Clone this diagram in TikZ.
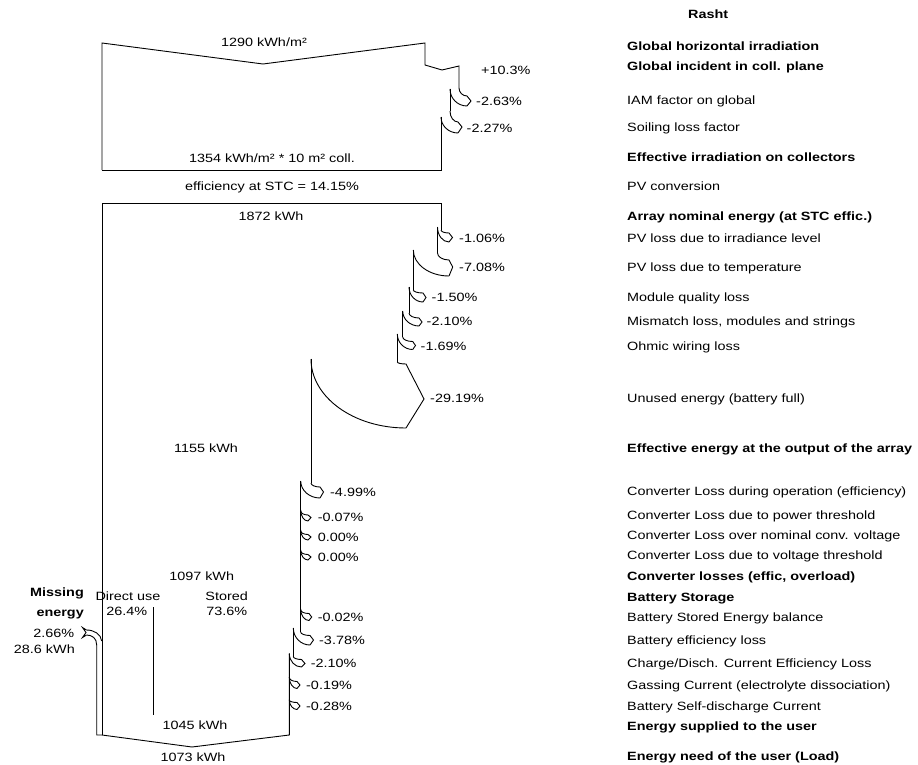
\documentclass[tikz,border=0pt]{standalone}
\usepackage{fontspec}
\setmainfont{Liberation Sans}[FakeStretch=1.2]
\newcommand\lossarrow[9]{%
  \draw[flow] (#1,#2) .. controls (#1,{#2+0.552*(#6-#2)}) and ({#5-0.552*(#5-#1)},#6) .. (#5,#6) -- (#7,#8) -- (#5,#9);
  \draw[flow] (#3,#4) .. controls (#3,{#4+0.552*(#9-#4)}) and ({#5-0.552*(#5-#3)},#9) .. (#5,#9);
}
\begin{document}
\begin{tikzpicture}[x=1pt,y=-1pt,
  flow/.style={draw=black,line width=0.9pt,line join=miter},
  every node/.style={inner sep=0pt,text height=8.6pt,text depth=0pt,font=\fontsize{12}{14}\selectfont},
  rlab/.style={anchor=west},
  rbold/.style={anchor=west,font=\fontsize{12}{14}\selectfont\bfseries},
  pct/.style={anchor=west},
  val/.style={anchor=center}]
\fill[white] (0,0) rectangle (918,765);
\useasboundingbox (0,0) rectangle (918,765);

% ---------- top block (irradiation) ----------
\draw[flow] (102,170) -- (102,43) -- (263,64) -- (425,43) -- (425,65) -- (442,70) -- (459,66) -- (459,88);
\lossarrow{459}{88}{450}{89}{467}{96}{471}{101}{106}
\draw[flow] (450,89) -- (450,111);
\lossarrow{450}{111}{441}{117}{458}{122}{462}{127}{133}
\draw[flow] (441,117) -- (441,170) -- (102,170);

% ---------- array block ----------
\draw[flow] (102,735) -- (102,203) -- (441,203) -- (441,230);
\lossarrow{441}{230}{437.5}{227}{449}{233}{452.5}{237.5}{242}
\draw[flow] (437.5,227) -- (437.5,253);
\lossarrow{437.5}{253}{413.3}{250}{449}{260}{452.7}{267}{276}
\draw[flow] (413.3,250) -- (413.3,290);
\lossarrow{413.3}{290}{409}{287}{423}{293}{426}{297.5}{302}
\draw[flow] (409,287) -- (409,313);
\lossarrow{409}{313}{402.7}{311}{419}{318}{422}{322}{326}
\draw[flow] (402.7,311) -- (402.7,337);
\lossarrow{402.7}{337}{397.3}{334}{412.7}{341.5}{415.5}{345.5}{349.5}
\draw[flow] (397.3,334) -- (397.3,362);
\lossarrow{397.3}{362}{311}{359}{406}{364}{424}{399}{428}
\draw[flow] (311,359) -- (311,483);

% ---------- converter ----------
\lossarrow{311}{483}{300.7}{481}{320}{487}{323.5}{492}{498}
\draw[flow] (300.7,481) -- (300.7,632);
\lossarrow{300.7}{511}{300.7}{510}{308}{515}{311}{517.5}{521}
\lossarrow{300.7}{531}{300.7}{530}{308}{534.5}{311}{537}{540}
\lossarrow{300.7}{551}{300.7}{550}{308}{554.5}{311}{557}{560}

% ---------- battery ----------
\lossarrow{300.7}{610}{300.7}{609}{309}{613.5}{311.7}{617}{620.5}
\lossarrow{300.7}{632}{293.3}{628}{310}{635.5}{313.5}{640}{645}
\draw[flow] (293.3,628) -- (293.3,656.5);
\lossarrow{293.3}{656.5}{289.3}{653.5}{301.5}{659.5}{305}{663.5}{667}
\draw[flow] (289.3,653.5) -- (289.3,735) -- (192,747) -- (102,735);
\lossarrow{289.3}{677.5}{289.3}{677}{297}{681.5}{300}{685}{688.5}
\lossarrow{289.3}{700}{289.3}{699.5}{297}{702.5}{300}{706}{709.5}

% direct use separator
\draw[flow] (153.3,607) -- (153.3,715);

% ---------- missing energy ----------
\draw[flow] (102,735) -- (96.7,735) -- (96.7,645) .. controls (96.7,638) and (92,635) .. (86.5,635);
\draw[flow] (101.7,641) .. controls (101,634) and (94,630) .. (86.5,630);
\draw[flow] (86.5,630) -- (82.5,627.5) -- (86,632.5) -- (82.5,637.5) -- (86.5,635);

% ---------- diagram texts ----------
\node[rbold] (title) at (688,14) {Rasht};
\node[val] (t1290) at (264,42) {1290 kWh/m²};
\node[pct] (p103) at (481,70) {+10.3\%};
\node[pct] (p263) at (476,101) {-2.63\%};
\node[pct] (p227) at (466.5,128) {-2.27\%};
\node[val] (t1354) at (272,158) {1354 kWh/m² * 10 m² coll.};
\node[val] (teff) at (272,186) {efficiency at STC = 14.15\%};
\node[val] (t1872) at (271,216) {1872 kWh};
\node[pct] (p106) at (459,238) {-1.06\%};
\node[pct] (p708) at (459,267) {-7.08\%};
\node[pct] (p150) at (431.5,297) {-1.50\%};
\node[pct] (p210a) at (426.5,321.5) {-2.10\%};
\node[pct] (p169) at (420.5,346) {-1.69\%};
\node[pct] (p2919) at (430,398.5) {-29.19\%};
\node[val] (t1155) at (206,448) {1155 kWh};
\node[pct] (p499) at (330,492) {-4.99\%};
\node[pct] (p007) at (317.7,517) {-0.07\%};
\node[pct] (p000a) at (317.7,537) {0.00\%};
\node[pct] (p000b) at (317.7,557) {0.00\%};
\node[val] (t1097) at (201.7,576) {1097 kWh};
\node[val] (tdir) at (128,596) {Direct use};
\node[val] (tdirp) at (126.7,611) {26.4\%};
\node[val] (tsto) at (226.7,596) {Stored};
\node[val] (tstop) at (226.7,611) {73.6\%};
\node[anchor=east,font=\fontsize{12}{14}\selectfont\bfseries] (miss1) at (84,592) {Missing};
\node[anchor=east,font=\fontsize{12}{14}\selectfont\bfseries] (miss2) at (84,612) {energy};
\node[anchor=east] (miss3) at (74.5,633) {2.66\%};
\node[anchor=east] (miss4) at (75,649.5) {28.6 kWh};
\node[pct] (p002) at (317.7,617) {-0.02\%};
\node[pct] (p378) at (319,640) {-3.78\%};
\node[pct] (p210b) at (310.7,663.5) {-2.10\%};
\node[pct] (p019) at (306,685.5) {-0.19\%};
\node[pct] (p028) at (306,706) {-0.28\%};
\node[val] (t1045) at (195,725.5) {1045 kWh};
\node[val] (t1073) at (193,757) {1073 kWh};

% ---------- right-hand legend ----------
\node[rbold] (r1) at (627,46) {Global horizontal irradiation};
\node[rbold] (r2) at (627,66) {Global incident in coll. plane};
\node[rlab] (r3) at (627,100) {IAM factor on global};
\node[rlab] (r4) at (627,127) {Soiling loss factor};
\node[rbold] (r5) at (627,157) {Effective irradiation on collectors};
\node[rlab] (r6) at (627,186) {PV conversion};
\node[rbold] (r7) at (627,216) {Array nominal energy (at STC effic.)};
\node[rlab] (r8) at (627,238) {PV loss due to irradiance level};
\node[rlab] (r9) at (627,267) {PV loss due to temperature};
\node[rlab] (r10) at (627,297) {Module quality loss};
\node[rlab] (r11) at (627,321) {Mismatch loss, modules and strings};
\node[rlab] (r12) at (627,346) {Ohmic wiring loss};
\node[rlab] (r13) at (627,398) {Unused energy (battery full)};
\node[rbold] (r14) at (627,448) {Effective energy at the output of the array};
\node[rlab] (r15) at (627,491) {Converter Loss during operation (efficiency)};
\node[rlab] (r16) at (627,515) {Converter Loss due to power threshold};
\node[rlab] (r17) at (627,535) {Converter Loss over nominal conv. voltage};
\node[rlab] (r18) at (627,555) {Converter Loss due to voltage threshold};
\node[rbold] (r19) at (627,576) {Converter losses (effic, overload)};
\node[rbold] (r20) at (627,597) {Battery Storage};
\node[rlab] (r21) at (627,617) {Battery Stored Energy balance};
\node[rlab] (r22) at (627,640) {Battery efficiency loss};
\node[rlab] (r23) at (627,663) {Charge/Disch. Current Efficiency Loss};
\node[rlab] (r24) at (627,685) {Gassing Current (electrolyte dissociation)};
\node[rlab] (r25) at (627,706) {Battery Self-discharge Current};
\node[rbold] (r26) at (627,726) {Energy supplied to the user};
\node[rbold] (r27) at (627,756) {Energy need of the user (Load)};
\end{tikzpicture}
\end{document}
